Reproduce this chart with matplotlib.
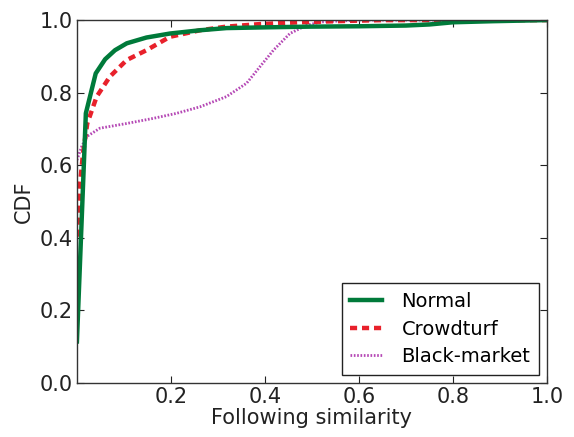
import matplotlib
matplotlib.use('Agg')
import matplotlib.pyplot as plt

normal_x = [0.0, 0.019, 0.040, 0.060, 0.081, 0.106, 0.148, 0.198, 0.262, 0.318, 0.40, 0.496, 0.60, 0.70, 0.75, 0.80, 0.885, 1.0]
normal_y = [0.114, 0.743, 0.853, 0.892, 0.917, 0.936, 0.952, 0.963, 0.972, 0.978, 0.980, 0.982, 0.983, 0.985, 0.988, 0.994, 0.997, 1.0]

crowd_x = [0.0, 0.006, 0.013, 0.022, 0.042, 0.070, 0.106, 0.148, 0.198, 0.262, 0.318, 0.389, 0.474, 0.55, 0.65, 1.0]
crowd_y = [0.403, 0.541, 0.633, 0.715, 0.789, 0.844, 0.890, 0.917, 0.954, 0.972, 0.982, 0.989, 0.994, 0.997, 1.0, 1.0]

black_x = [0.0, 0.010, 0.021, 0.049, 0.106, 0.162, 0.212, 0.262, 0.318, 0.361, 0.389, 0.418, 0.453, 0.489, 0.52, 0.60, 1.0]
black_y = [0.614, 0.651, 0.679, 0.702, 0.715, 0.729, 0.743, 0.761, 0.789, 0.826, 0.871, 0.917, 0.963, 0.986, 0.995, 1.0, 1.0]

plt.rcParams['font.family'] = 'DejaVu Sans'
plt.rcParams['font.size'] = 15

fig, ax = plt.subplots(figsize=(5.74, 4.37), dpi=100)
fig.subplots_adjust(left=0.134, right=0.953, top=0.954, bottom=0.124)

ax.plot(black_x, black_y, color='#b548b5', lw=2, ls=(0, (0.6, 0.6)), label='Black-market')
ax.plot(crowd_x, crowd_y, color='#e8212b', lw=3.2, ls=(0, (1.6, 1.1)), label='Crowdturf')
ax.plot(normal_x, normal_y, color='#007a3a', lw=3.2, label='Normal')

ax.set_xlim(0, 1)
ax.set_ylim(0, 1)
ax.set_xticks([0.2, 0.4, 0.6, 0.8, 1.0])
ax.set_yticks([0.0, 0.2, 0.4, 0.6, 0.8, 1.0])
ax.tick_params(direction='in', top=True, right=True, length=5, colors='#222222',
               labelsize=15, pad=3)
for s in ax.spines.values():
    s.set_color('#333333')
    s.set_linewidth(1.0)
ax.set_xlabel('Following similarity', fontsize=15, color='#222222', labelpad=1)
ax.set_ylabel('CDF', fontsize=15, color='#222222', labelpad=4)

handles, labels = ax.get_legend_handles_labels()
leg = ax.legend(handles[::-1], labels[::-1], loc='lower right', fontsize=14,
                fancybox=False, framealpha=1, edgecolor='#222222',
                handlelength=1.6, handletextpad=1.03, borderaxespad=0.4,
                labelspacing=0.45, borderpad=0.45)
leg.get_frame().set_linewidth(1.0)

plt.savefig('out.png', dpi=100)
